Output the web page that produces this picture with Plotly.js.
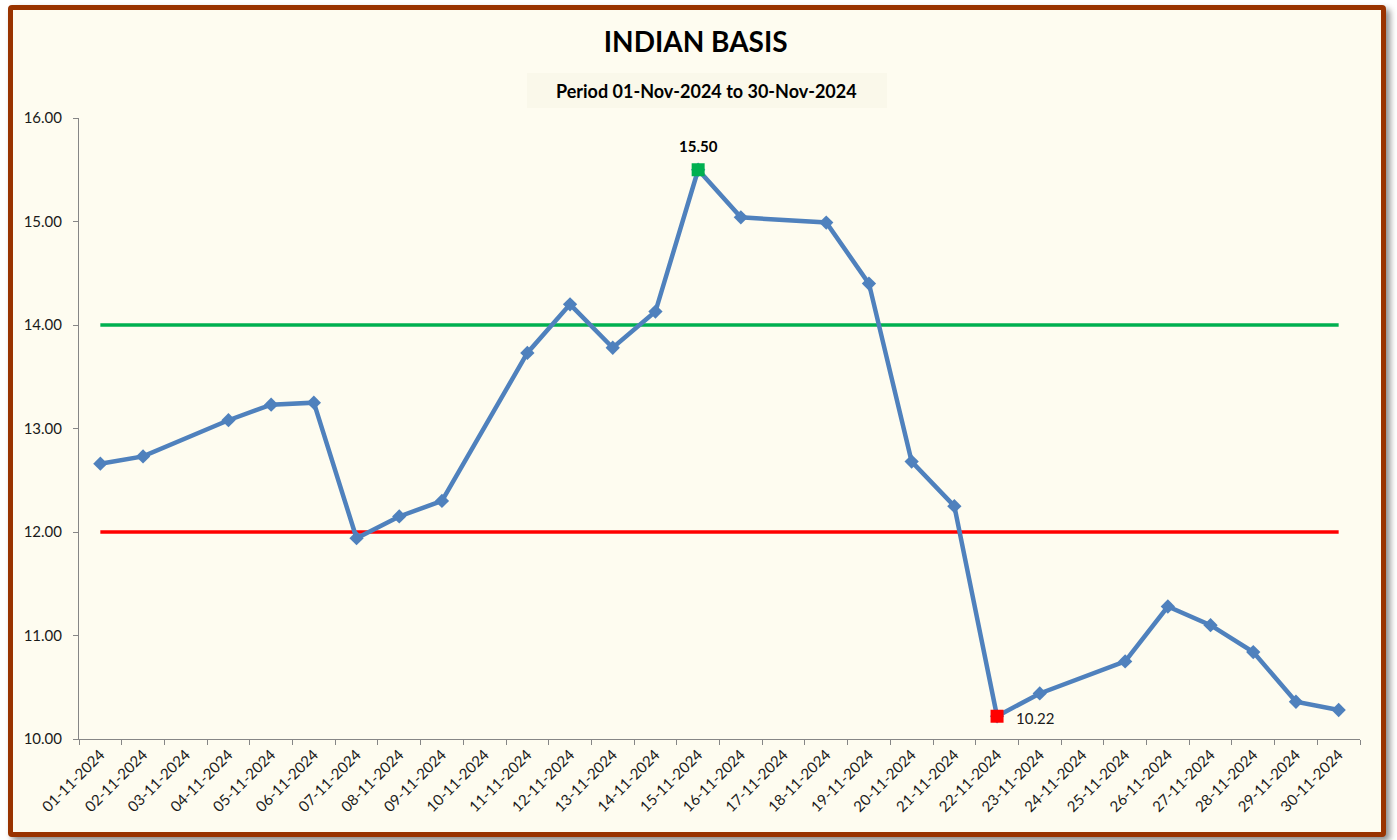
<!DOCTYPE html>
<html>
<head>
<meta charset="utf-8">
<script src="https://cdn.plot.ly/plotly-3.0.1.min.js"></script>
<style>
  html, body { margin: 0; padding: 0; background: #ffffff; }
  #frame { position: absolute; left: 8px; top: 5px; width: 1378px; height: 832px; box-sizing: border-box;
    border: 5px solid #993300; border-radius: 4px; background: #FEFCF0;
    box-shadow: 4px 4px 6px rgba(0,0,0,0.45); }
  #chart { position: absolute; left: 0; top: 0; width: 1397px; height: 840px; }
</style>
</head>
<body>
<div id="frame"></div>
<div id="chart"></div>
<script>
// Indian basis, daily, Nov 2024 (Sundays have no quote)
const dates = ['01-11-2024','02-11-2024','03-11-2024','04-11-2024','05-11-2024','06-11-2024','07-11-2024',
  '08-11-2024','09-11-2024','10-11-2024','11-11-2024','12-11-2024','13-11-2024','14-11-2024','15-11-2024',
  '16-11-2024','17-11-2024','18-11-2024','19-11-2024','20-11-2024','21-11-2024','22-11-2024','23-11-2024',
  '24-11-2024','25-11-2024','26-11-2024','27-11-2024','28-11-2024','29-11-2024','30-11-2024'];
const basis = [12.66, 12.73, null, 13.08, 13.23, 13.25, 11.94,
  12.15, 12.30, null, 13.73, 14.20, 13.78, 14.13, 15.50,
  15.04, null, 14.99, 14.40, 12.68, 12.25, 10.22, 10.44,
  null, 10.75, 11.28, 11.10, 10.84, 10.36, 10.28];
const upperLevel = 14;
const lowerLevel = 12;
const maxDate = '15-11-2024', maxVal = 15.50;
const minDate = '22-11-2024', minVal = 10.22;

const FONT = 'Lato, "Open Sans", sans-serif';
const ends = [dates[0], dates[dates.length - 1]];

// plot area in page pixels, used to place the subtitle box
const PL = 79, PR = 1360, PT = 118, PB = 739;
const px = v => (v - PL) / (PR - PL);
const py = v => (PB - v) / (PB - PT);

const traces = [
  { x: ends, y: [upperLevel, upperLevel], mode: 'lines', line: { color: '#00B050', width: 3.5 }, hoverinfo: 'skip' },
  { x: ends, y: [lowerLevel, lowerLevel], mode: 'lines', line: { color: '#FF0000', width: 3.5 }, hoverinfo: 'skip' },
  { x: dates, y: basis, mode: 'lines+markers', connectgaps: true,
    line: { color: '#4F81BD', width: 4.5 }, marker: { symbol: 'diamond', size: 11, color: '#4F81BD' } },
  { x: [maxDate], y: [maxVal], mode: 'markers', marker: { symbol: 'square', size: 13, color: '#00B050' } },
  { x: [minDate], y: [minVal], mode: 'markers', marker: { symbol: 'square', size: 13, color: '#FF0000' } },
];

const layout = {
  width: 1397, height: 840,
  margin: { l: PL, r: 1397 - PR, t: PT, b: 840 - PB },
  paper_bgcolor: 'rgba(0,0,0,0)', plot_bgcolor: 'rgba(0,0,0,0)',
  showlegend: false,
  font: { family: FONT, color: '#1a1a1a', size: 13 },
  title: { text: '<b>INDIAN BASIS</b>', font: { family: FONT, size: 28, color: '#000' },
    x: 0.498, xref: 'container', y: 1 - 42 / 840, yanchor: 'middle' },
  xaxis: {
    type: 'category', categoryorder: 'array', categoryarray: dates,
    range: [-0.5, dates.length - 0.5],
    tickson: 'boundaries', ticks: 'outside', ticklen: 5, tickcolor: '#868686',
    showline: true, linecolor: '#868686', linewidth: 1, showgrid: false, zeroline: false,
    tickangle: -45, tickfont: { size: 15, family: FONT, color: '#1a1a1a' },
  },
  yaxis: {
    range: [10, 16], dtick: 1, tickformat: '.2f',
    ticks: 'outside', ticklen: 5, tickcolor: '#868686', ticklabelstandoff: 8,
    showline: true, linecolor: '#868686', linewidth: 1, showgrid: false, zeroline: false,
    tickfont: { size: 15, family: FONT, color: '#1a1a1a' },
  },
  shapes: [
    { type: 'rect', xref: 'paper', yref: 'paper', x0: px(527), x1: px(887), y0: py(108), y1: py(73),
      fillcolor: '#FAF8EA', line: { width: 0 }, layer: 'below' },
  ],
  annotations: [
    { text: '<b>Period 01-Nov-2024 to 30-Nov-2024</b>', xref: 'paper', yref: 'paper', x: px(706), y: py(91),
      yanchor: 'middle', showarrow: false, font: { size: 18, family: FONT, color: '#000' } },
    { x: maxDate, y: maxVal, text: '<b>' + maxVal.toFixed(2) + '</b>', showarrow: false, yshift: 24,
      font: { size: 15, family: FONT, color: '#000' } },
    { x: minDate, y: minVal, text: minVal.toFixed(2), showarrow: false, xanchor: 'left', xshift: 17, yshift: -2,
      font: { size: 15, family: FONT, color: '#1a1a1a' } },
  ],
};

Plotly.newPlot('chart', traces, layout, { displayModeBar: false, staticPlot: true });
</script>
</body>
</html>
